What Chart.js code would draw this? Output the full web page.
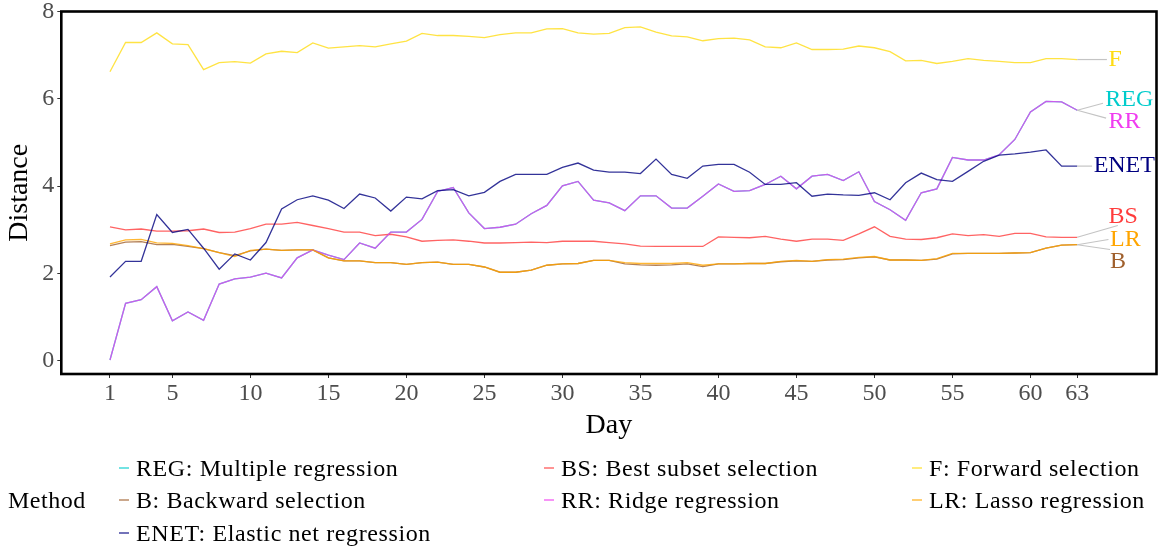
<!DOCTYPE html>
<html>
<head>
<meta charset="utf-8">
<script src="https://cdn.jsdelivr.net/npm/chart.js@4.4.1/dist/chart.umd.min.js"></script>
<style>
  html, body { margin: 0; padding: 0; background: #fff; }
  #wrap { position: relative; width: 1158px; height: 552px; font-family: 'Liberation Serif', serif; }
  canvas { position: absolute; left: 0; top: 0; }
  .lg-title { position: absolute; left: 8px; top: 500px; font-size: 24px; letter-spacing: 0.5px; transform: translateY(-50%); }
  .lg-item { position: absolute; font-size: 24px; letter-spacing: 0.6px; white-space: nowrap; transform: translateY(-50%); }
  .lg-key { position: absolute; width: 10px; height: 2px; }
</style>
</head>
<body>
<div id="wrap">
  <canvas id="chart" width="1158" height="552"></canvas>
</div>
<script>
const days = [1, 2, 3, 4, 5, 6, 7, 8, 9, 10, 11, 12, 13, 14, 15, 16, 17, 18, 19, 20,
  21, 22, 23, 24, 25, 26, 27, 28, 29, 30, 31, 32, 33, 34, 35, 36, 37, 38, 39, 40,
  41, 42, 43, 44, 45, 46, 47, 48, 49, 50, 51, 52, 53, 54, 55, 56, 57, 58, 59, 60,
  61, 62, 63];
const xTicks = [1, 5, 10, 15, 20, 25, 30, 35, 40, 45, 50, 55, 60, 63];
const yTicks = [0, 2, 4, 6, 8];

const regValues = [0.02, 1.32, 1.40, 1.70, 0.92, 1.12, 0.93, 1.76, 1.88, 1.92,
  2.01, 1.90, 2.36, 2.54, 2.42, 2.32, 2.70, 2.58, 2.95, 2.95,
  3.24, 3.88, 3.97, 3.39, 3.03, 3.06, 3.13, 3.37, 3.56, 4.01,
  4.11, 3.68, 3.62, 3.44, 3.78, 3.78, 3.50, 3.50, 3.77, 4.05,
  3.88, 3.90, 4.04, 4.23, 3.94, 4.23, 4.27, 4.13, 4.33, 3.65,
  3.46, 3.22, 3.85, 3.94, 4.66, 4.60, 4.60, 4.72, 5.07, 5.70,
  5.94, 5.93, 5.74];
const bsValues = [3.07, 3.00, 3.02, 2.97, 2.97, 2.98, 3.02, 2.94, 2.95, 3.03,
  3.13, 3.13, 3.17, 3.10, 3.03, 2.95, 2.95, 2.87, 2.90, 2.84,
  2.74, 2.76, 2.77, 2.74, 2.70, 2.70, 2.71, 2.72, 2.71, 2.74,
  2.74, 2.74, 2.71, 2.68, 2.63, 2.62, 2.62, 2.62, 2.62, 2.84,
  2.83, 2.82, 2.85, 2.79, 2.74, 2.79, 2.79, 2.76, 2.91, 3.07,
  2.85, 2.79, 2.78, 2.82, 2.91, 2.87, 2.89, 2.85, 2.92, 2.92,
  2.84, 2.83, 2.83];
const fValues = [6.62, 7.29, 7.29, 7.51, 7.26, 7.24, 6.67, 6.83, 6.85, 6.82,
  7.03, 7.09, 7.06, 7.28, 7.16, 7.19, 7.22, 7.19, 7.26, 7.32,
  7.50, 7.45, 7.45, 7.43, 7.40, 7.47, 7.51, 7.51, 7.60, 7.61,
  7.51, 7.48, 7.50, 7.63, 7.65, 7.53, 7.44, 7.42, 7.33, 7.38,
  7.39, 7.35, 7.19, 7.17, 7.28, 7.13, 7.13, 7.14, 7.21, 7.17,
  7.08, 6.87, 6.88, 6.81, 6.86, 6.92, 6.88, 6.86, 6.83, 6.83,
  6.92, 6.92, 6.90];
const bValues = [2.64, 2.72, 2.73, 2.66, 2.67, 2.62, 2.57, 2.48, 2.41, 2.52,
  2.56, 2.53, 2.54, 2.54, 2.36, 2.29, 2.29, 2.25, 2.25, 2.21,
  2.25, 2.26, 2.21, 2.21, 2.15, 2.03, 2.03, 2.08, 2.19, 2.22,
  2.23, 2.30, 2.30, 2.22, 2.20, 2.19, 2.20, 2.22, 2.16, 2.22,
  2.22, 2.23, 2.23, 2.27, 2.29, 2.28, 2.31, 2.32, 2.36, 2.38,
  2.31, 2.31, 2.30, 2.33, 2.45, 2.46, 2.46, 2.46, 2.47, 2.48,
  2.58, 2.65, 2.66];
const rrValues = [0.02, 1.32, 1.40, 1.70, 0.92, 1.12, 0.93, 1.76, 1.88, 1.92,
  2.01, 1.90, 2.36, 2.54, 2.42, 2.32, 2.70, 2.58, 2.95, 2.95,
  3.24, 3.88, 3.97, 3.39, 3.03, 3.06, 3.13, 3.37, 3.56, 4.01,
  4.11, 3.68, 3.62, 3.44, 3.78, 3.78, 3.50, 3.50, 3.77, 4.05,
  3.88, 3.90, 4.04, 4.23, 3.94, 4.23, 4.27, 4.13, 4.33, 3.65,
  3.46, 3.22, 3.85, 3.94, 4.66, 4.60, 4.60, 4.72, 5.07, 5.70,
  5.94, 5.93, 5.74];
const lrValues = [2.68, 2.77, 2.78, 2.70, 2.69, 2.64, 2.57, 2.48, 2.39, 2.53,
  2.56, 2.53, 2.54, 2.54, 2.36, 2.29, 2.29, 2.25, 2.25, 2.21,
  2.25, 2.26, 2.21, 2.21, 2.15, 2.03, 2.03, 2.08, 2.19, 2.22,
  2.23, 2.30, 2.30, 2.25, 2.23, 2.23, 2.23, 2.25, 2.19, 2.22,
  2.22, 2.23, 2.23, 2.28, 2.30, 2.28, 2.32, 2.33, 2.37, 2.39,
  2.31, 2.31, 2.30, 2.34, 2.46, 2.46, 2.46, 2.46, 2.47, 2.48,
  2.58, 2.65, 2.66];
const enetValues = [1.92, 2.28, 2.28, 3.35, 2.94, 3.01, 2.58, 2.10, 2.45, 2.31,
  2.71, 3.48, 3.69, 3.78, 3.68, 3.49, 3.82, 3.73, 3.43, 3.75,
  3.71, 3.90, 3.92, 3.78, 3.86, 4.11, 4.27, 4.27, 4.27, 4.43,
  4.53, 4.37, 4.32, 4.32, 4.29, 4.62, 4.27, 4.18, 4.46, 4.50,
  4.50, 4.32, 4.04, 4.04, 4.08, 3.77, 3.82, 3.80, 3.79, 3.85,
  3.69, 4.08, 4.30, 4.15, 4.11, 4.34, 4.57, 4.71, 4.74, 4.78,
  4.83, 4.46, 4.46];

// legend order (row by row, as in the reference)
const methods = [
  {code: 'REG', name: 'Multiple regression', color: '#00cccc', values: regValues},
  {code: 'BS', name: 'Best subset selection', color: '#ff3c3c', values: bsValues},
  {code: 'F', name: 'Forward selection', color: '#ffdc14', values: fValues},
  {code: 'B', name: 'Backward selection', color: '#a0602d', values: bValues},
  {code: 'RR', name: 'Ridge regression', color: '#f03cf0', values: rrValues},
  {code: 'LR', name: 'Lasso regression', color: '#ffa500', values: lrValues},
  {code: 'ENET', name: 'Elastic net regression', color: '#000080', values: enetValues},
];

// where the repelled end labels sit (x in days, y in distance) and where their leader ends
const endLabels = {
  F: {x: 65.0, y: 6.90, cx: 64.9, cy: 6.90},
  REG: {x: 64.8, y: 5.98, cx: 64.65, cy: 5.90},
  RR: {x: 65.0, y: 5.47, cx: 64.85, cy: 5.56},
  ENET: {x: 64.05, y: 4.46, cx: 63.95, cy: 4.46},
  BS: {x: 65.0, y: 3.31, cx: 65.6, cy: 3.10},
  LR: {x: 65.1, y: 2.78, cx: 65.0, cy: 2.78},
  B: {x: 65.1, y: 2.27, cx: 65.1, cy: 2.55},
};

function withAlpha(hex, a) {
  const n = parseInt(hex.slice(1), 16);
  return `rgba(${n >> 16}, ${(n >> 8) & 255}, ${n & 255}, ${a})`;
}

const serif = "'Liberation Serif', serif";

const frameAndLabels = {
  id: 'frameAndLabels',
  afterDatasetsDraw(chart) {
    const {ctx, chartArea: area, scales: {x, y}} = chart;
    const lastDay = days[days.length - 1];
    ctx.save();
    ctx.font = `24px ${serif}`;
    ctx.textBaseline = 'middle';
    ctx.textAlign = 'left';
    methods.forEach(m => {
      const l = endLabels[m.code];
      const last = m.values[m.values.length - 1];
      ctx.strokeStyle = '#c4c4c4';
      ctx.lineWidth = 1.2;
      ctx.beginPath();
      ctx.moveTo(x.getPixelForValue(lastDay), y.getPixelForValue(last));
      ctx.lineTo(x.getPixelForValue(l.cx), y.getPixelForValue(l.cy));
      ctx.stroke();
      ctx.fillStyle = m.color;
      ctx.fillText(m.code, x.getPixelForValue(l.x), y.getPixelForValue(l.y));
    });
    ctx.strokeStyle = '#000';
    ctx.lineWidth = 2.6;
    ctx.strokeRect(area.left, area.top, area.right - area.left, area.bottom - area.top);
    ctx.restore();
  }
};

// drawing order: first dataset ends up on top
const drawOrder = ['ENET', 'LR', 'RR', 'B', 'F', 'BS', 'REG'];
const datasets = drawOrder.map(code => {
  const m = methods.find(item => item.code === code);
  return {
    label: m.code,
    data: days.map((d, i) => ({x: d, y: m.values[i]})),
    borderColor: withAlpha(m.color, 0.8),
    borderWidth: 1.3,
    pointRadius: 0,
    tension: 0,
    fill: false,
  };
});

new Chart(document.getElementById('chart').getContext('2d'), {
  type: 'line',
  data: {datasets: datasets},
  options: {
    responsive: false,
    animation: false,
    devicePixelRatio: 1,
    layout: {autoPadding: false, padding: {left: 0, top: 11.5, right: 1.5, bottom: 108}},
    plugins: {legend: {display: false}, tooltip: {enabled: false}},
    scales: {
      x: {
        type: 'linear',
        min: -2.12,
        max: 68.08,
        afterFit: axis => {
          axis.height = 70;
          axis.paddingLeft = 0;
          axis.paddingRight = 0;
        },
        afterBuildTicks: axis => { axis.ticks = xTicks.map(v => ({value: v})); },
        grid: {drawOnChartArea: false, drawTicks: true, tickLength: 4, color: '#333'},
        border: {display: false},
        ticks: {color: '#4d4d4d', font: {family: serif, size: 24}, padding: 1, maxRotation: 0, autoSkip: false},
        title: {display: true, text: 'Day', color: '#000', font: {family: serif, size: 28}, padding: {top: 0, bottom: 2}},
      },
      y: {
        type: 'linear',
        min: -0.3,
        max: 8,
        afterFit: axis => {
          axis.width = 61.3;
          axis.paddingTop = 0;
          axis.paddingBottom = 0;
        },
        afterBuildTicks: axis => { axis.ticks = yTicks.map(v => ({value: v})); },
        grid: {drawOnChartArea: false, drawTicks: true, tickLength: 4, color: '#333'},
        border: {display: false},
        ticks: {color: '#4d4d4d', font: {family: serif, size: 24}, padding: 3},
        title: {display: true, text: 'Distance', color: '#000', font: {family: serif, size: 28}, padding: {top: 3, bottom: 0}},
      },
    },
  },
  plugins: [frameAndLabels],
});

// legend below the plot, three columns filled row by row
const wrap = document.getElementById('wrap');
const legendTitle = document.createElement('div');
legendTitle.className = 'lg-title';
legendTitle.textContent = 'Method';
wrap.appendChild(legendTitle);

const colKeyX = [119, 544, 912];
const colTextX = [136, 561, 929];
const rowY = [468, 500, 533];
methods.forEach((m, i) => {
  const col = i % 3;
  const row = Math.floor(i / 3);
  const key = document.createElement('div');
  key.className = 'lg-key';
  key.style.left = colKeyX[col] + 'px';
  key.style.top = (rowY[row] - 1) + 'px';
  key.style.background = withAlpha(m.color, 0.55);
  wrap.appendChild(key);
  const item = document.createElement('div');
  item.className = 'lg-item';
  item.style.left = colTextX[col] + 'px';
  item.style.top = rowY[row] + 'px';
  item.textContent = m.code + ': ' + m.name;
  wrap.appendChild(item);
});
</script>
</body>
</html>
